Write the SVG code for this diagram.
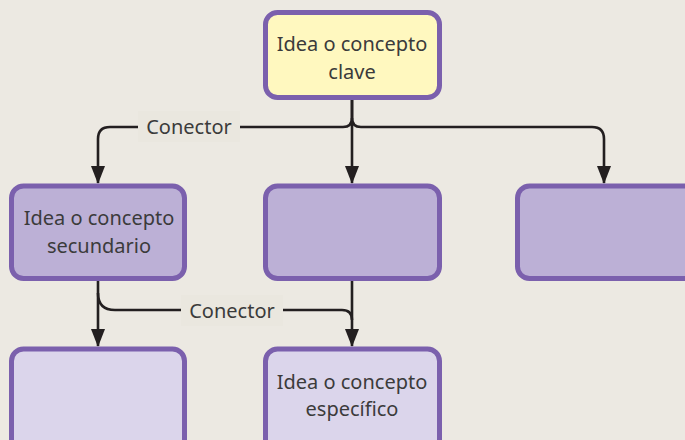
<svg xmlns="http://www.w3.org/2000/svg" width="685" height="440" viewBox="0 0 685 440">
<defs>
<style>
.box{stroke:#7b60ad;stroke-width:5}
.k{fill:#fff8bf}
.s{fill:#bcb0d6}
.t{fill:#dbd5eb}
.txt{font-family:"Noto Sans","Open Sans",sans-serif;font-size:20px;fill:#3b3b3b;text-anchor:middle}
.ln{fill:none;stroke:#231f20;stroke-width:2.6}
.lbl{fill:#eae7df}
</style>
<marker id="arr" markerUnits="userSpaceOnUse" markerWidth="18" markerHeight="14" viewBox="0 0 18 14" refX="17" refY="7" orient="auto">
<path d="M0,0 L18,7 L0,14 Z" fill="#231f20"/>
</marker>
</defs>
<rect width="685" height="440" fill="#ece9e2"/>
<g id="connectors">
<path class="ln" d="M352,100 V118 Q352,127 343,127 H110 Q98,127 98,139 V183" marker-end="url(#arr)"/>
<path class="ln" d="M352,118 Q352,127 361,127 H592 Q604,127 604,139 V183" marker-end="url(#arr)"/>
<path class="ln" d="M352,100 V183" marker-end="url(#arr)"/>
<path class="ln" d="M98,281 V346" marker-end="url(#arr)"/>
<path class="ln" d="M98,293 Q98,310 115,310 H342 Q352,310 352,320"/>
<path class="ln" d="M352,281 V346" marker-end="url(#arr)"/>
<g id="label1">
<rect class="lbl" x="138" y="111" width="102" height="31"/>
<text class="txt" x="189" y="134">Conector</text>
</g>
<g id="label2">
<rect class="lbl" x="181" y="295" width="102" height="31"/>
<text class="txt" x="232" y="318">Conector</text>
</g>
</g>
<g id="n-clave">
<rect class="box k" x="265.5" y="12.5" width="174" height="85" rx="12"/>
<text class="txt" x="352" y="51">Idea o concepto</text>
<text class="txt" x="352" y="79">clave</text>
</g>
<g id="n-secundario">
<rect class="box s" x="11.5" y="186" width="173" height="92.5" rx="12"/>
<text class="txt" x="99" y="225">Idea o concepto</text>
<text class="txt" x="99" y="253">secundario</text>
</g>
<g id="n-mid">
<rect class="box s" x="265.5" y="186" width="174" height="92.5" rx="12"/>
</g>
<g id="n-right">
<rect class="box s" x="517.5" y="186" width="180" height="92.5" rx="12"/>
</g>
<g id="n-bottom-left">
<rect class="box t" x="11.5" y="349" width="173" height="110" rx="12"/>
</g>
<g id="n-especifico">
<rect class="box t" x="265.5" y="349" width="174" height="110" rx="12"/>
<text class="txt" x="352" y="389">Idea o concepto</text>
<text class="txt" x="352" y="416">específico</text>
</g>
</svg>
